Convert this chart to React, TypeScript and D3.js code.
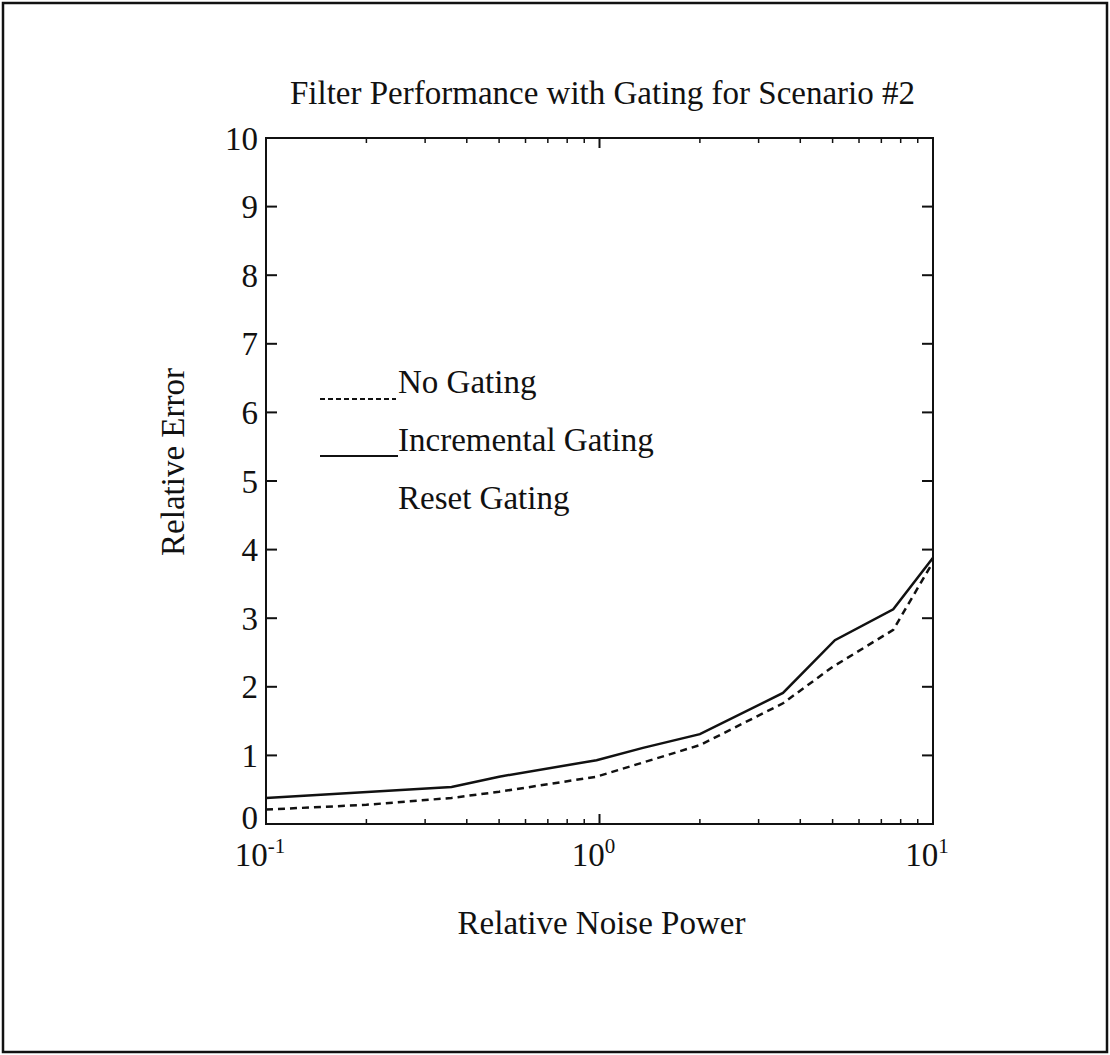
import React from "react";
import * as d3 from "d3";

const titleText = "Filter Performance with Gating for Scenario #2";
const xTitle = "Relative Noise Power";
const yTitle = "Relative Error";
const yTicks = [0, 1, 2, 3, 4, 5, 6, 7, 8, 9, 10];
const xMajorExps = [-1, 0, 1];

const noGatingX = [0.1, 0.2, 0.36, 0.5, 0.98, 2.0, 3.55, 5.0, 7.6, 10];
const noGatingY = [0.21, 0.28, 0.38, 0.47, 0.69, 1.15, 1.76, 2.29, 2.83, 3.82];
const incX = [0.1, 0.36, 0.5, 0.98, 1.35, 2.0, 3.55, 5.08, 7.6, 10];
const incY = [0.38, 0.54, 0.69, 0.93, 1.11, 1.31, 1.91, 2.68, 3.13, 3.88];

const legendLabels = ["No Gating", "Incremental Gating", "Reset Gating"];

const W = 1110;
const H = 1055;
const L = 266, R = 933, T = 138, B = 824;
const FONT = "'Liberation Serif', 'DejaVu Serif', serif";

export default function App() {
  const x = d3.scaleLog().domain([0.1, 10]).range([L, R]);
  const y = d3.scaleLinear().domain([0, 10]).range([B, T]);
  const line = d3
    .line<[number, number]>()
    .x((d) => x(d[0]))
    .y((d) => y(d[1]));
  const dashedData = noGatingX.map((v, i) => [v, noGatingY[i]] as [number, number]);
  const solidData = incX.map((v, i) => [v, incY[i]] as [number, number]);

  const minor: number[] = [];
  [0.1, 1].forEach((dec) => {
    for (let k = 2; k <= 9; k++) minor.push(dec * k);
  });

  return (
    <svg
      width={W}
      height={H}
      style={{ position: "absolute", left: 0, top: 0, background: "#fff" }}
      fontFamily={FONT}
    >
      <rect x={0} y={0} width={W} height={H} fill="#fff" />
      <rect x={3} y={3} width={W - 6} height={H - 6} fill="none" stroke="#111" strokeWidth={2.5} />
      <text x={(L + R) / 2 + 3} y={104} textAnchor="middle" fontSize={33} fill="#111">
        {titleText}
      </text>
      {/* frame */}
      <rect x={L} y={T} width={R - L} height={B - T} fill="none" stroke="#111" strokeWidth={2} />
      {/* y ticks */}
      {yTicks.map((t) => (
        <g key={t}>
          <line x1={L} x2={L + 11} y1={y(t)} y2={y(t)} stroke="#111" strokeWidth={2} />
          <line x1={R} x2={R - 11} y1={y(t)} y2={y(t)} stroke="#111" strokeWidth={2} />
          <text
            x={L - 8}
            y={y(t) - (t === 0 ? 7 : 0)}
            dy="0.35em"
            textAnchor="end"
            fontSize={33}
            fill="#111"
          >
            {t}
          </text>
        </g>
      ))}
      {/* x minor ticks */}
      {minor.map((m) => (
        <g key={m}>
          <line x1={x(m)} x2={x(m)} y1={B} y2={B - 5} stroke="#111" strokeWidth={1.5} />
          <line x1={x(m)} x2={x(m)} y1={T} y2={T + 5} stroke="#111" strokeWidth={1.5} />
        </g>
      ))}
      {xMajorExps.map((e) => (
        <g key={e}>
          <line x1={x(Math.pow(10, e))} x2={x(Math.pow(10, e))} y1={B} y2={B - 10} stroke="#111" strokeWidth={2} />
          <line x1={x(Math.pow(10, e))} x2={x(Math.pow(10, e))} y1={T} y2={T + 10} stroke="#111" strokeWidth={2} />
          <text x={x(Math.pow(10, e)) - 6} y={866} textAnchor="middle" fontSize={33} fill="#111">
            10
            <tspan dy={-13} fontSize={21}>
              {e}
            </tspan>
          </text>
        </g>
      ))}
      <text x={(L + R) / 2 + 2} y={934} textAnchor="middle" fontSize={33} fill="#111">
        {xTitle}
      </text>
      <text
        transform={`translate(184, 462) rotate(-90)`}
        textAnchor="middle"
        fontSize={33}
        fill="#111"
      >
        {yTitle}
      </text>
      {/* series */}
      <path d={line(dashedData) || ""} fill="none" stroke="#111" strokeWidth={2.5} strokeDasharray="7,5" />
      <path d={line(solidData) || ""} fill="none" stroke="#111" strokeWidth={2.5} />
      {/* legend */}
      <line x1={320} x2={396} y1={399} y2={399} stroke="#111" strokeWidth={2} strokeDasharray="5,3" />
      <line x1={320} x2={398} y1={456} y2={456} stroke="#111" strokeWidth={2} />
      {legendLabels.map((lab, i) => (
        <text key={lab} x={398} y={393 + i * 58} fontSize={33} fill="#111">
          {lab}
        </text>
      ))}
    </svg>
  );
}
